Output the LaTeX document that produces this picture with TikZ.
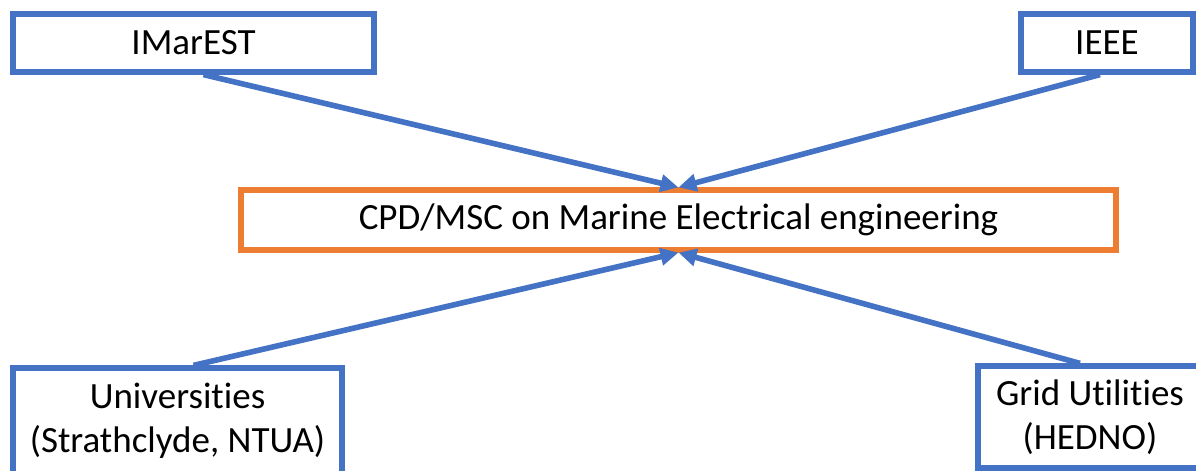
\documentclass[tikz,border=0pt]{standalone}
\usepackage{fontspec}
\setmainfont[Ligatures=NoCommon]{Carlito}
\usetikzlibrary{arrows.meta}
\definecolor{boxblue}{RGB}{68,114,196}
\definecolor{boxorange}{RGB}{237,125,49}
\tikzset{
  orgbox/.style={draw=boxblue,line width=2.6pt,align=center,inner sep=0pt},
  mainbox/.style={draw=boxorange,line width=2.6pt,inner sep=0pt},
  feed/.style={draw=boxblue,line width=2.8pt,-{Triangle[length=9pt,width=8.5pt]}}
}

\begin{document}
\begin{tikzpicture}[x=0.5pt,y=-0.5pt,font=\fontsize{18.5}{22}\selectfont]
  \clip (0,0) rectangle (1196,471);
  \node[orgbox,minimum width=180.5pt,minimum height=29pt] (imarest) at (193.5,43) {IMarEST};
  \node[orgbox,minimum width=86pt,minimum height=29pt] (ieee) at (1107,43) {IEEE};
  \node[mainbox,minimum width=437.5pt,minimum height=30pt] (cpd) at (678.5,220)
    {CPD/MSC on Marine Electrical engineering};
  \node[orgbox,minimum width=164.5pt,minimum height=53pt] (univ) at (177.5,421)
    {Universities\\(Strathclyde, NTUA)};
  \node[orgbox,minimum width=112pt,minimum height=51pt] (grid) at (1090,417)
    {Grid Utilities\\(HEDNO)};
  % links to the course
  \draw[feed] ([xshift=5pt]imarest.south) -- (cpd.north);
  \draw[feed] ([xshift=-3.5pt]ieee.south) -- (cpd.north);
  \draw[feed] ([xshift=8pt]univ.north) -- (cpd.south);
  \draw[feed] ([xshift=-5pt]grid.north) -- (cpd.south);
\end{tikzpicture}
\end{document}
